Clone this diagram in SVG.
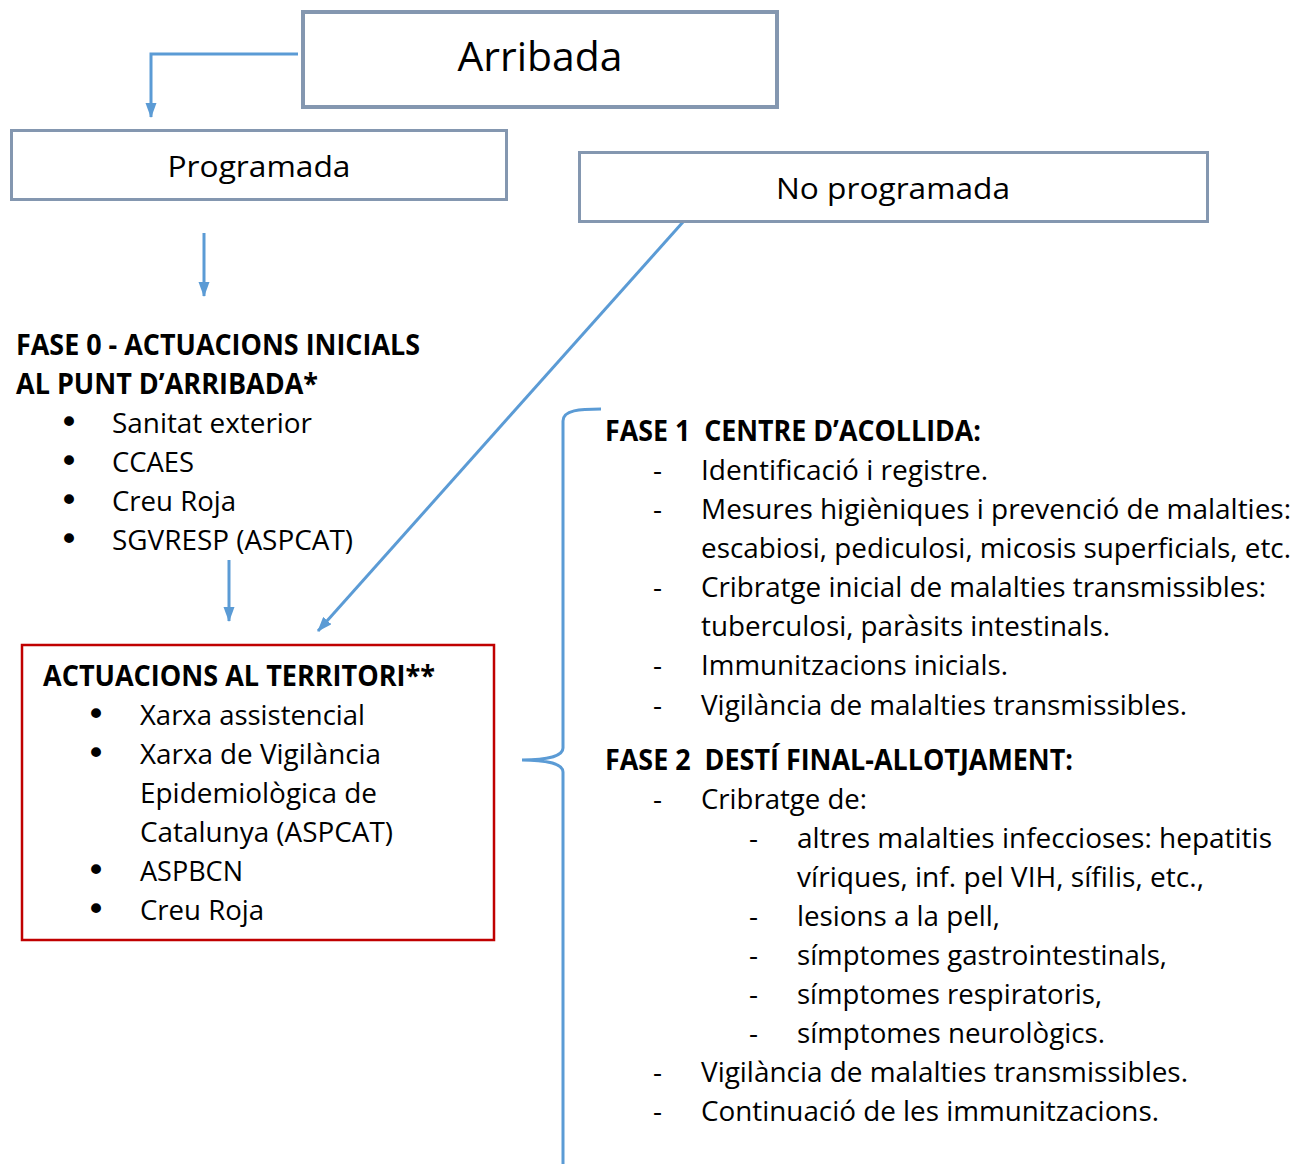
<svg xmlns="http://www.w3.org/2000/svg" width="1306" height="1164" viewBox="0 0 1306 1164">
<defs>
<style>
.box{fill:#ffffff;stroke:#8497B0}
.con{fill:none;stroke:#5B9BD5;stroke-width:3}
.t{font-family:"Open Sans","Noto Sans",sans-serif;font-size:28px;fill:#000000;white-space:pre}
.b{font-weight:bold}
.c{text-anchor:middle}
.bu{font-family:"DejaVu Sans",sans-serif;font-size:34px;fill:#000000;text-anchor:middle}
</style>
<marker id="ah" viewBox="0 0 15 11" refX="14" refY="5.5" markerWidth="5" markerHeight="3.67" orient="auto" markerUnits="strokeWidth">
<path d="M0,0 L15,5.5 L0,11 z" fill="#5B9BD5"/>
</marker>
</defs>
<rect width="1306" height="1164" fill="#ffffff"/>

<g id="connectors">
<path class="con" d="M298,54 L151,54 L151,117" marker-end="url(#ah)"/>
<path class="con" d="M204,233 L204,296" marker-end="url(#ah)"/>
<path class="con" d="M229,560 L229,621" marker-end="url(#ah)"/>
<path class="con" d="M683,222 L318,631" marker-end="url(#ah)"/>
<path class="con" d="M601,409 C580,409 563,410 563,421 L563,748 C563,756 548,760 522,760 C548,760 563,764 563,772 L563,1164"/>
</g>

<g id="arribada">
<rect class="box" x="303" y="12" width="474" height="95" stroke-width="4"/>
<text class="t c" x="540" y="71" style="font-size:40px" textLength="165" lengthAdjust="spacingAndGlyphs">Arribada</text>
</g>

<g id="programada">
<rect class="box" x="11.5" y="130.5" width="495" height="69" stroke-width="3"/>
<text class="t c" x="259" y="177" style="font-size:30px" textLength="183" lengthAdjust="spacingAndGlyphs">Programada</text>
</g>

<g id="no-programada">
<rect class="box" x="579.5" y="152.5" width="628" height="69" stroke-width="3"/>
<text class="t c" x="893" y="199" style="font-size:30px" textLength="234" lengthAdjust="spacingAndGlyphs">No programada</text>
</g>

<g id="fase0">
<text class="t b" x="16" y="355" textLength="404" lengthAdjust="spacingAndGlyphs">FASE 0 - ACTUACIONS INICIALS</text>
<text class="t b" x="16" y="394" textLength="302" lengthAdjust="spacingAndGlyphs">AL PUNT D’ARRIBADA*</text>
<text class="bu" x="69" y="434">•</text>
<text class="t" x="112" y="433" textLength="200" lengthAdjust="spacingAndGlyphs">Sanitat exterior</text>
<text class="bu" x="69" y="473">•</text>
<text class="t" x="112" y="472" textLength="82" lengthAdjust="spacingAndGlyphs">CCAES</text>
<text class="bu" x="69" y="512">•</text>
<text class="t" x="112" y="511" textLength="124" lengthAdjust="spacingAndGlyphs">Creu Roja</text>
<text class="bu" x="69" y="551">•</text>
<text class="t" x="112" y="550" textLength="241" lengthAdjust="spacingAndGlyphs">SGVRESP (ASPCAT)</text>
</g>

<g id="territori">
<rect x="22" y="645" width="472" height="295" fill="#ffffff" stroke="#C00000" stroke-width="2.5"/>
<text class="t b" x="43" y="686" textLength="392" lengthAdjust="spacingAndGlyphs">ACTUACIONS AL TERRITORI**</text>
<text class="bu" x="96" y="726">•</text>
<text class="t" x="140" y="725" textLength="225" lengthAdjust="spacingAndGlyphs">Xarxa assistencial</text>
<text class="bu" x="96" y="765">•</text>
<text class="t" x="140" y="764" textLength="241" lengthAdjust="spacingAndGlyphs">Xarxa de Vigilància</text>
<text class="t" x="140" y="803" textLength="237" lengthAdjust="spacingAndGlyphs">Epidemiològica de</text>
<text class="t" x="140" y="842" textLength="253" lengthAdjust="spacingAndGlyphs">Catalunya (ASPCAT)</text>
<text class="bu" x="96" y="882">•</text>
<text class="t" x="140" y="881" textLength="103" lengthAdjust="spacingAndGlyphs">ASPBCN</text>
<text class="bu" x="96" y="921">•</text>
<text class="t" x="140" y="920" textLength="124" lengthAdjust="spacingAndGlyphs">Creu Roja</text>
</g>

<g id="fase1">
<text class="t b" x="605" y="441" textLength="376" lengthAdjust="spacingAndGlyphs">FASE 1  CENTRE D’ACOLLIDA:</text>
<text class="t" x="653" y="480">-</text>
<text class="t" x="701" y="480" textLength="287" lengthAdjust="spacingAndGlyphs">Identificació i registre.</text>
<text class="t" x="653" y="519">-</text>
<text class="t" x="701" y="519" textLength="590" lengthAdjust="spacingAndGlyphs">Mesures higièniques i prevenció de malalties:</text>
<text class="t" x="701" y="558" textLength="590" lengthAdjust="spacingAndGlyphs">escabiosi, pediculosi, micosis superficials, etc.</text>
<text class="t" x="653" y="597">-</text>
<text class="t" x="701" y="597" textLength="565" lengthAdjust="spacingAndGlyphs">Cribratge inicial de malalties transmissibles:</text>
<text class="t" x="701" y="636" textLength="409" lengthAdjust="spacingAndGlyphs">tuberculosi, paràsits intestinals.</text>
<text class="t" x="653" y="675">-</text>
<text class="t" x="701" y="675" textLength="307" lengthAdjust="spacingAndGlyphs">Immunitzacions inicials.</text>
<text class="t" x="653" y="715">-</text>
<text class="t" x="701" y="715" textLength="486" lengthAdjust="spacingAndGlyphs">Vigilància de malalties transmissibles.</text>
</g>

<g id="fase2">
<text class="t b" x="605" y="770" textLength="468" lengthAdjust="spacingAndGlyphs">FASE 2  DESTÍ FINAL-ALLOTJAMENT:</text>
<text class="t" x="653" y="809">-</text>
<text class="t" x="701" y="809" textLength="166" lengthAdjust="spacingAndGlyphs">Cribratge de:</text>
<text class="t" x="749" y="848">-</text>
<text class="t" x="797" y="848" textLength="475" lengthAdjust="spacingAndGlyphs">altres malalties infeccioses: hepatitis</text>
<text class="t" x="797" y="887" textLength="407" lengthAdjust="spacingAndGlyphs">víriques, inf. pel VIH, sífilis, etc.,</text>
<text class="t" x="749" y="926">-</text>
<text class="t" x="797" y="926" textLength="203" lengthAdjust="spacingAndGlyphs">lesions a la pell,</text>
<text class="t" x="749" y="965">-</text>
<text class="t" x="797" y="965" textLength="370" lengthAdjust="spacingAndGlyphs">símptomes gastrointestinals,</text>
<text class="t" x="749" y="1004">-</text>
<text class="t" x="797" y="1004" textLength="305" lengthAdjust="spacingAndGlyphs">símptomes respiratoris,</text>
<text class="t" x="749" y="1043">-</text>
<text class="t" x="797" y="1043" textLength="308" lengthAdjust="spacingAndGlyphs">símptomes neurològics.</text>
<text class="t" x="653" y="1082">-</text>
<text class="t" x="701" y="1082" textLength="487" lengthAdjust="spacingAndGlyphs">Vigilància de malalties transmissibles.</text>
<text class="t" x="653" y="1121">-</text>
<text class="t" x="701" y="1121" textLength="458" lengthAdjust="spacingAndGlyphs">Continuació de les immunitzacions.</text>
</g>
</svg>
